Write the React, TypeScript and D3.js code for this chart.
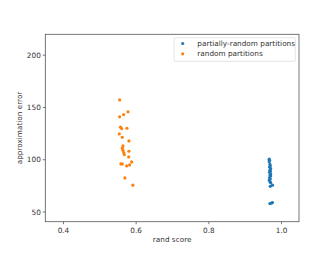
import React from "react";
import * as d3 from "d3";

const partialX = [0.966, 0.967, 0.966, 0.968, 0.969, 0.967, 0.970, 0.968, 0.969, 0.967, 0.970, 0.968, 0.970, 0.967, 0.969, 0.966, 0.968, 0.970, 0.975, 0.969, 0.968, 0.972, 0.975];
const partialY = [100.5, 99.5, 98, 95.5, 94, 93, 91.5, 90, 89, 88, 86.5, 85.5, 84.5, 83, 81.5, 80.5, 79, 78, 75.6, 74.5, 58, 58.5, 59];

const randomX = [0.5545, 0.5545, 0.5655, 0.5775, 0.557, 0.560, 0.5747, 0.5536, 0.5618, 0.580, 0.5637, 0.5618, 0.5637, 0.5655, 0.5674, 0.580, 0.5793, 0.558, 0.5618, 0.5876, 0.5738, 0.582, 0.569, 0.591];
const randomY = [157.2, 141, 143.2, 145.8, 131.1, 129.8, 130.1, 124.7, 121.5, 118, 113.2, 111, 109, 106.8, 104.9, 108.1, 102.7, 96, 96, 97.9, 94.1, 95, 82.6, 75.6];

const xTicks = [0.4, 0.6, 0.8, 1.0];
const yTicks = [50, 100, 150, 200];
const seriesNames = ["partially-random partitions", "random partitions"];
const colors = ["#1f77b4", "#ff7f0e"];

export default function App() {
  const W = 336, H = 265;
  const left = 45.3, right = 299, top = 34.3, bottom = 221.7;
  const x = d3.scaleLinear().domain([0.35, 1.048]).range([left, right]);
  const y = d3.scaleLinear().domain([40.7, 220]).range([bottom, top]);
  const font = "DejaVu Sans, sans-serif";
  const series = [
    { xs: partialX, ys: partialY },
    { xs: randomX, ys: randomY },
  ];
  return (
    <svg width={W} height={H} style={{ position: "absolute", left: 0, top: 0, background: "#fff" }} fontFamily={font}>
      <rect x={0} y={0} width={W} height={H} fill="#fff" />
      {series.map((s, si) =>
        s.xs.map((xv, i) => (
          <circle key={si + "-" + i} cx={x(xv)} cy={y(s.ys[i])} r={1.6} fill={colors[si]} />
        ))
      )}
      <rect x={left} y={top} width={right - left} height={bottom - top} fill="none" stroke="#555" strokeWidth={0.8} />
      {xTicks.map((t) => (
        <g key={"x" + t}>
          <line x1={x(t)} x2={x(t)} y1={bottom} y2={bottom + 2.5} stroke="#555" strokeWidth={0.8} />
          <text x={x(t)} y={bottom + 11} fontSize={7.3} fill="#333" textAnchor="middle">{t.toFixed(1)}</text>
        </g>
      ))}
      {yTicks.map((t) => (
        <g key={"y" + t}>
          <line x1={left - 2.5} x2={left} y1={y(t)} y2={y(t)} stroke="#555" strokeWidth={0.8} />
          <text x={left - 4.5} y={y(t) + 2.6} fontSize={7.3} fill="#333" textAnchor="end">{t}</text>
        </g>
      ))}
      <text x={(left + right) / 2} y={242} fontSize={7.3} fill="#333" textAnchor="middle">rand score</text>
      <text transform={`translate(21.5, ${(top + bottom) / 2}) rotate(-90)`} fontSize={7.3} fill="#333" textAnchor="middle">approximation error</text>
      <rect x={174} y={37.7} width={121.3} height={23.6} rx={1.5} fill="#fff" fillOpacity={0.8} stroke="#ddd" strokeWidth={0.8} />
      {seriesNames.map((n, i) => (
        <g key={n}>
          <circle cx={182.7} cy={43.5 + i * 10.3} r={1.6} fill={colors[i]} />
          <text x={197.3} y={46 + i * 10.3} fontSize={7.3} fill="#333">{n}</text>
        </g>
      ))}
    </svg>
  );
}
